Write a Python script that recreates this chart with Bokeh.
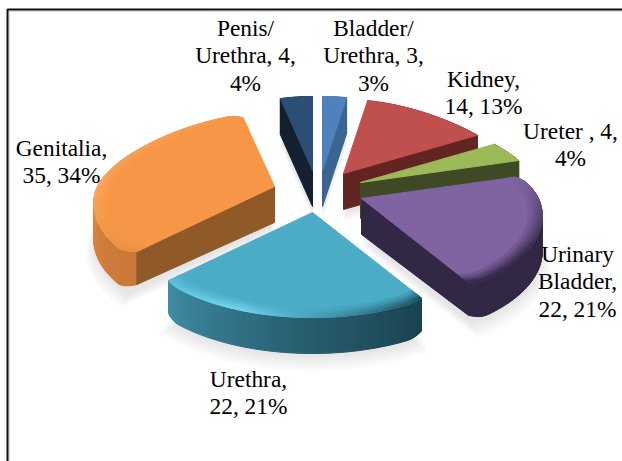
import math
from bokeh.plotting import figure
from bokeh.models import Range1d
from bokeh.core.properties import value
from bokeh.embed import file_html
from bokeh.resources import INLINE

# ---- data ----
categories = ["Bladder/Urethra", "Kidney", "Ureter", "Urinary Bladder", "Urethra", "Genitalia", "Penis/Urethra"]
counts = [3, 14, 4, 22, 22, 35, 4]
percents = [3, 13, 4, 21, 21, 34, 4]
label_lines = [
    ["Bladder/", "Urethra, 3,", "3%"],
    ["Kidney,", "14, 13%"],
    ["Ureter , 4,", "4%"],
    ["Urinary", "Bladder,", "22, 21%"],
    ["Urethra,", "22, 21%"],
    ["Genitalia,", "35, 34%"],
    ["Penis/", "Urethra, 4,", "4%"],
]

# ---- layout and style ----
W, H = 622, 461
apex = [(322, 170), (343, 173), (360, 182), (361, 198), (312, 212), (274, 186), (312, 170)]
label_pos = [(373, 27), (483, 78), (570, 130), (577, 253), (248, 378), (61, 147), (245, 27)]
LINE_H = 27.5
THICK = 36
corner_round = [0, 0, 0, 0.03, 0.012, 0.05, 0]
top_col = ["#4F81BD", "#C0504D", "#9BBB59", "#8064A2", "#4BACC6", "#F79646", "#2C4D75"]
cut_col = ["#3A6593", "#632523", "#3F4A24", "#322745", "#1D4552", "#8F5A28", "#12202F"]
wall_stops = [
    ["#3A6593", "#3A6593"], ["#632523", "#632523"], ["#3F4A24", "#3F4A24"],
    ["#453658", "#322745", "#322745"],
    ["#1A4250", "#2A6274", "#3F8DA5"],
    ["#C9783A", "#DD873F", "#E88F43", "#F79646"],
    ["#12202F", "#12202F"],
]
bevel_stops = [
    None, None, None,
    ["#8064A2", "#5A4772", "#3A2D4D", "#322745"],
    ["#1F5060", "#3F93AB", "#74D6F0", "#5BC0DA"],
    ["#E88F43", "#FBA75E", "#F9A058", "#F79646"],
    None,
]


def hex2rgb(h):
    return tuple(int(h[i:i + 2], 16) for i in (1, 3, 5))


def ramp(stops, t):
    t = max(0, min(1, t)) * (len(stops) - 1)
    i = min(int(t), len(stops) - 2)
    a, b = hex2rgb(stops[i]), hex2rgb(stops[i + 1])
    u = t - i
    return "#%02x%02x%02x" % tuple(round(a[k] + (b[k] - a[k]) * u) for k in range(3))


def proj(deg, r, c):
    X = r * math.sin(math.radians(deg))
    Y = r * math.cos(math.radians(deg))
    f = 1 - 0.2 * Y - 0.05 * Y * abs(Y)
    ry = 74 if Y > 0 else 80 + 25 * abs(Y)
    return c[0] + 177 * f * X, c[1] - Y * ry


def arc(a0, a1, r, c, n, rnd=0.0):
    out = []
    for i in range(n + 1):
        a = a0 + (a1 - a0) * i / n
        d = min(a - a0, a1 - a)
        rr = r * (1 - rnd * max(0, 1 - d / 6) ** 2)
        out.append(proj(a, rr, c))
    return out


total = sum(counts)
angles = [0]
for v in counts:
    angles.append(angles[-1] + v / total * 360)

shadow = {"xs": [], "ys": []}
layers = []

order = [6, 0, 1, 2, 5, 3, 4]  # back to front
for i in order:
    a0, a1 = angles[i], angles[i + 1]
    c = apex[i]
    big = bevel_stops[i] is not None
    rnd = corner_round[i]
    L = {"wall": [], "cut": [], "top": [], "bevel": []}
    n = max(4, int(a1 - a0))
    # soft shadow below each slice
    for grow, dy in [(1.04, THICK + 12), (1.03, THICK + 10), (1.02, THICK + 8), (1.01, THICK + 6), (1.0, THICK + 4)]:
        pts = [c] + arc(a0, a1, grow, c, n)
        shadow["xs"].append([q[0] for q in pts])
        shadow["ys"].append([q[1] + dy for q in pts])
    # outer wall, with its lower edge eased in at the ends of the big slices
    pts = arc(a0, a1, 1, c, n, rnd)
    for k in range(n):
        a, b = pts[k], pts[k + 1]
        t0 = t1 = THICK
        if big:
            d0 = min(k, n - k) * (a1 - a0) / n
            d1 = min(k + 1, n - k - 1) * (a1 - a0) / n
            t0 -= 3 * max(0, 1 - d0 / 5) ** 2
            t1 -= 3 * max(0, 1 - d1 / 5) ** 2
        L["wall"].append(([a[0], b[0], b[0], a[0]], [a[1], b[1], b[1] + t1, a[1] + t0], ramp(wall_stops[i], k / n)))
    # cut faces that look towards the viewer
    mid = proj((a0 + a1) / 2, 1, c)
    for e in (a0, a1):
        C = proj(e, 1 - rnd, c)
        dx = C[0] - c[0]
        if abs(dx) < 1e-6:
            continue
        line_y = c[1] + (C[1] - c[1]) / dx * (mid[0] - c[0])
        if mid[1] < line_y:
            bot = THICK - (3 if big else 0)
            L["cut"].append(([c[0], C[0], C[0], c[0]], [c[1], C[1], C[1] + bot, c[1] + THICK], cut_col[i]))
    # top surface
    pts = [c] + arc(a0, a1, 1, c, n, rnd)
    L["top"].append(([q[0] for q in pts], [q[1] for q in pts], top_col[i]))
    # bevelled rim, several thin rings that fade into the top colour
    if big:
        rings = [(0.985, 1.0, 1.0), (0.97, 0.985, 0.8), (0.955, 0.97, 0.6), (0.94, 0.955, 0.4), (0.925, 0.94, 0.2)]
        for r0, r1, mix in rings:
            o = arc(a0, a1, r1, c, n, rnd)
            u = arc(a0, a1, r0, c, n, rnd)
            for k in range(n):
                col = ramp([top_col[i], ramp(bevel_stops[i], k / n)], mix)
                L["bevel"].append(([o[k][0], o[k + 1][0], u[k + 1][0], u[k][0]],
                                   [o[k][1], o[k + 1][1], u[k + 1][1], u[k][1]], col))
    layers.append(L)

p = figure(width=W, height=H, x_range=Range1d(0, W), y_range=Range1d(H, 0),
           output_backend="svg", toolbar_location=None, min_border=0,
           background_fill_color="white", border_fill_color="white", outline_line_color=None)
p.styles = {"position": "absolute", "left": "0px", "top": "0px"}
p.xaxis.visible = False
p.yaxis.visible = False
p.grid.visible = False

p.patches(shadow["xs"], shadow["ys"], fill_color="#606060", fill_alpha=0.03, line_color=None)
for L in layers:
    for key in ("wall", "cut", "top", "bevel"):
        if L[key]:
            xs = [t[0] for t in L[key]]
            ys = [t[1] for t in L[key]]
            cs = [t[2] for t in L[key]]
            p.patches(xs, ys, fill_color=cs, line_color=cs, line_width=1)

# frame of the chart area (runs off the right and bottom of the picture)
p.line([W + 5, 8.5, 8.5], [10.5, 10.5, H + 5], line_color="#C8C8C8", line_width=1)
p.line([W + 5, 7, 7], [9, 9, H + 5], line_color="#111111", line_width=2)

tx, ty, tt = [], [], []
for (cx, cy), lines in zip(label_pos, label_lines):
    for j, s in enumerate(lines):
        tx.append(cx)
        ty.append(cy + j * LINE_H)
        tt.append(s)
p.text(tx, ty, text=tt, text_font=value("Liberation Serif"), text_font_size="23.4px",
       text_color="#000000", text_align="center", text_baseline="middle")

open("out.html", "w").write(file_html(p, INLINE))
